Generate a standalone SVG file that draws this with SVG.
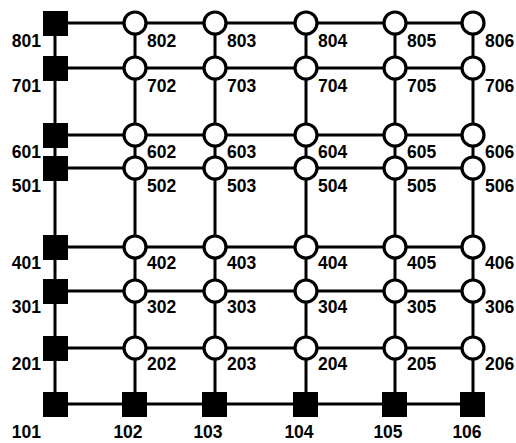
<svg xmlns="http://www.w3.org/2000/svg" width="516" height="443" viewBox="0 0 516 443">
<style>
.e{stroke:#000;stroke-width:3;fill:none}
.c{fill:#fff;stroke:#000;stroke-width:3.2}
.s{fill:#000}
text{font-family:"Liberation Sans",Arial,sans-serif;font-weight:bold;font-size:17.5px;fill:#000}
.r{text-anchor:end}
.m{text-anchor:middle}
</style>
<rect width="516" height="443" fill="#fff"/>
<g id="connectors">
<path class="e" d="M55 23H473M55 68H473M55 135H473M55 168H473M55 247H473M55 291H473M55 348H473M55 404H473"/>
<path class="e" d="M55 23V404M135 23V404M215 23V404M306 23V404M395 23V404M473 23V404"/>
</g>
<g id="n801"><rect class="s" x="43" y="11" width="25" height="25"/><text class="r" x="41" y="47">801</text></g>
<g id="n701"><rect class="s" x="43" y="56" width="25" height="25"/><text class="r" x="41" y="92">701</text></g>
<g id="n601"><rect class="s" x="43" y="123" width="25" height="25"/><text class="r" x="41" y="158">601</text></g>
<g id="n501"><rect class="s" x="43" y="156" width="25" height="25"/><text class="r" x="41" y="192">501</text></g>
<g id="n401"><rect class="s" x="43" y="235" width="25" height="25"/><text class="r" x="41" y="269">401</text></g>
<g id="n301"><rect class="s" x="43" y="279" width="25" height="25"/><text class="r" x="41" y="313">301</text></g>
<g id="n201"><rect class="s" x="43" y="336" width="25" height="25"/><text class="r" x="41" y="370">201</text></g>
<g id="n101"><rect class="s" x="43" y="392" width="25" height="25"/><text class="r" x="41" y="438">101</text></g>
<g id="n102"><rect class="s" x="122" y="392" width="25" height="25"/><text class="m" x="128" y="438">102</text></g>
<g id="n103"><rect class="s" x="202" y="392" width="25" height="25"/><text class="m" x="208" y="438">103</text></g>
<g id="n104"><rect class="s" x="293" y="392" width="25" height="25"/><text class="m" x="299" y="438">104</text></g>
<g id="n105"><rect class="s" x="382" y="392" width="25" height="25"/><text class="m" x="388" y="438">105</text></g>
<g id="n106"><rect class="s" x="460" y="392" width="25" height="25"/><text class="m" x="467" y="438">106</text></g>
<g id="n802"><circle class="c" cx="135" cy="23" r="11"/><text x="147" y="47">802</text></g>
<g id="n803"><circle class="c" cx="215" cy="23" r="11"/><text x="227" y="47">803</text></g>
<g id="n804"><circle class="c" cx="306" cy="23" r="11"/><text x="318" y="47">804</text></g>
<g id="n805"><circle class="c" cx="395" cy="23" r="11"/><text x="407" y="47">805</text></g>
<g id="n806"><circle class="c" cx="473" cy="23" r="11"/><text x="485" y="47">806</text></g>
<g id="n702"><circle class="c" cx="135" cy="68" r="11"/><text x="147" y="92">702</text></g>
<g id="n703"><circle class="c" cx="215" cy="68" r="11"/><text x="227" y="92">703</text></g>
<g id="n704"><circle class="c" cx="306" cy="68" r="11"/><text x="318" y="92">704</text></g>
<g id="n705"><circle class="c" cx="395" cy="68" r="11"/><text x="407" y="92">705</text></g>
<g id="n706"><circle class="c" cx="473" cy="68" r="11"/><text x="485" y="92">706</text></g>
<g id="n602"><circle class="c" cx="135" cy="135" r="11"/><text x="147" y="158">602</text></g>
<g id="n603"><circle class="c" cx="215" cy="135" r="11"/><text x="227" y="158">603</text></g>
<g id="n604"><circle class="c" cx="306" cy="135" r="11"/><text x="318" y="158">604</text></g>
<g id="n605"><circle class="c" cx="395" cy="135" r="11"/><text x="407" y="158">605</text></g>
<g id="n606"><circle class="c" cx="473" cy="135" r="11"/><text x="485" y="158">606</text></g>
<g id="n502"><circle class="c" cx="135" cy="168" r="11"/><text x="147" y="192">502</text></g>
<g id="n503"><circle class="c" cx="215" cy="168" r="11"/><text x="227" y="192">503</text></g>
<g id="n504"><circle class="c" cx="306" cy="168" r="11"/><text x="318" y="192">504</text></g>
<g id="n505"><circle class="c" cx="395" cy="168" r="11"/><text x="407" y="192">505</text></g>
<g id="n506"><circle class="c" cx="473" cy="168" r="11"/><text x="485" y="192">506</text></g>
<g id="n402"><circle class="c" cx="135" cy="247" r="11"/><text x="147" y="269">402</text></g>
<g id="n403"><circle class="c" cx="215" cy="247" r="11"/><text x="227" y="269">403</text></g>
<g id="n404"><circle class="c" cx="306" cy="247" r="11"/><text x="318" y="269">404</text></g>
<g id="n405"><circle class="c" cx="395" cy="247" r="11"/><text x="407" y="269">405</text></g>
<g id="n406"><circle class="c" cx="473" cy="247" r="11"/><text x="485" y="269">406</text></g>
<g id="n302"><circle class="c" cx="135" cy="291" r="11"/><text x="147" y="313">302</text></g>
<g id="n303"><circle class="c" cx="215" cy="291" r="11"/><text x="227" y="313">303</text></g>
<g id="n304"><circle class="c" cx="306" cy="291" r="11"/><text x="318" y="313">304</text></g>
<g id="n305"><circle class="c" cx="395" cy="291" r="11"/><text x="407" y="313">305</text></g>
<g id="n306"><circle class="c" cx="473" cy="291" r="11"/><text x="485" y="313">306</text></g>
<g id="n202"><circle class="c" cx="135" cy="348" r="11"/><text x="147" y="370">202</text></g>
<g id="n203"><circle class="c" cx="215" cy="348" r="11"/><text x="227" y="370">203</text></g>
<g id="n204"><circle class="c" cx="306" cy="348" r="11"/><text x="318" y="370">204</text></g>
<g id="n205"><circle class="c" cx="395" cy="348" r="11"/><text x="407" y="370">205</text></g>
<g id="n206"><circle class="c" cx="473" cy="348" r="11"/><text x="485" y="370">206</text></g>
</svg>
